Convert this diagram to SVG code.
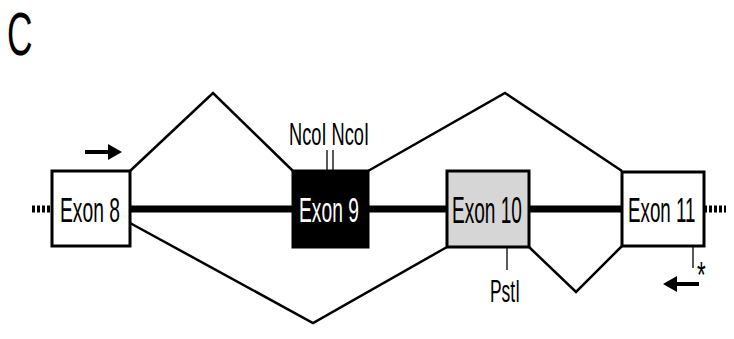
<svg xmlns="http://www.w3.org/2000/svg" width="734" height="339" viewBox="0 0 734 339">
<style>
text{font-family:"Liberation Sans",Arial,sans-serif;}
.lbl{font-size:36px;}
.sm{font-size:32px;}
.box{stroke:#000;stroke-width:3;}
.con{fill:none;stroke:#000;stroke-width:2.5;stroke-linejoin:miter;}
.thin{stroke:#000;stroke-width:1.3;}
</style>
<rect width="734" height="339" fill="#fff"/>
<text transform="translate(7,55) scale(0.57,1)" style="font-size:62px">C</text>
<g id="backbone">
<line x1="32" y1="209" x2="52" y2="209" stroke="#000" stroke-width="7" stroke-dasharray="3,2"/>
<line x1="704" y1="209" x2="726" y2="209" stroke="#000" stroke-width="7" stroke-dasharray="3,2"/>
<line x1="130" y1="209" x2="622" y2="209" stroke="#000" stroke-width="7"/>
</g>
<g id="connectors">
<polyline class="con" points="130,171 213,93 293,171"/>
<polyline class="con" points="368,171 505,93 622,171"/>
<polyline class="con" points="130,223 313,323 447,247"/>
<polyline class="con" points="529,247 576,292 622,246"/>
</g>
<g id="exon8">
<rect class="box" x="52" y="171" width="78" height="75" fill="#fff"/>
<text class="lbl" transform="translate(60,222) scale(0.535,1)">Exon 8</text>
</g>
<g id="exon9">
<rect class="box" x="293" y="171" width="75" height="76" fill="#000"/>
<text class="lbl" transform="translate(299,222) scale(0.535,1)" fill="#fff">Exon 9</text>
</g>
<g id="exon10">
<rect class="box" x="447" y="171" width="82" height="76" fill="#d6d6d6"/>
<text class="lbl" transform="translate(452,223) scale(0.53,1)">Exon 10</text>
</g>
<g id="exon11">
<rect class="box" x="622" y="172" width="82" height="74" fill="#fff"/>
<text class="lbl" transform="translate(628,222) scale(0.522,1)">Exon 11</text>
</g>
<g id="ncoi">
<line class="thin" x1="327" y1="150" x2="327" y2="171"/>
<line class="thin" x1="333" y1="150" x2="333" y2="171"/>
<text class="sm" transform="translate(289,145) scale(0.57,1)">NcoI NcoI</text>
</g>
<g id="psti">
<line class="thin" x1="507" y1="247" x2="507" y2="270"/>
<text class="sm" transform="translate(490,302) scale(0.544,1)">PstI</text>
</g>
<g id="stop">
<line class="thin" x1="693" y1="246" x2="693" y2="268"/>
<text transform="translate(697,288) scale(0.62,1)" style="font-size:36px">*</text>
</g>
<g id="primer-f">
<line x1="85" y1="152" x2="110" y2="152" stroke="#000" stroke-width="4"/>
<polygon points="108,144 122,152 108,160" fill="#000"/>
</g>
<g id="primer-r">
<line x1="675" y1="284" x2="699" y2="284" stroke="#000" stroke-width="4"/>
<polygon points="677,276 663,284 677,292" fill="#000"/>
</g>
</svg>
